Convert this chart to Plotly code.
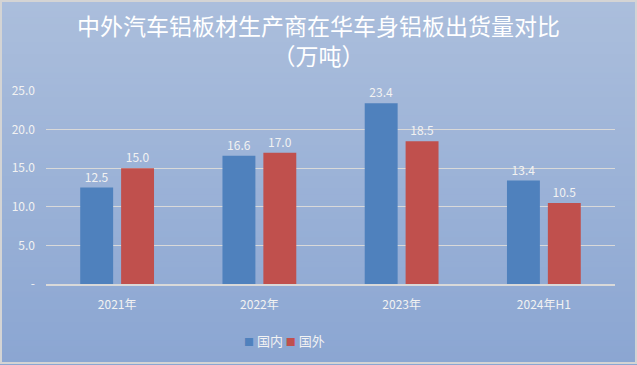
import plotly.graph_objects as go

categories = ["2021年", "2022年", "2023年", "2024年H1"]
domestic = [12.5, 16.6, 23.4, 13.4]
foreign = [15.0, 17.0, 18.5, 10.5]
series_names = ["国内", "国外"]
series_colors = ["#4f81bd", "#c0504d"]
y_tickvals = [0, 5, 10, 15, 20, 25]
y_ticktext = ["-", "5.0", "10.0", "15.0", "20.0", "25.0"]
title_lines = ["中外汽车铝板材生产商在华车身铝板出货量对比", "（万吨）"]

font_family = "Noto Sans CJK SC, Noto Sans, sans-serif"
label_color = "#f2f2f2"

W, H = 637, 365
ML, MR, MT, MB = 46, 22, 91, 81
PW, PH = W - ML - MR, H - MT - MB


def px_x(x):
    return (x - ML) / PW


def px_y(y):
    return (H - MB - y) / PH


fig = go.Figure()
for name, vals, col in zip(series_names, [domestic, foreign], series_colors):
    fig.add_trace(go.Bar(
        x=categories, y=vals, name=name,
        marker=dict(color=col, line=dict(width=0)),
        text=[f"{v:.1f}" for v in vals], textposition="outside",
        textfont=dict(color=label_color, size=12), cliponaxis=False,
    ))

# gradient background bands
shapes = []
n = 60
top = (171, 190, 220)
bot = (139, 166, 210)
y_top, y_bot = px_y(0), px_y(H)
for i in range(n):
    t = i / (n - 1)
    c = tuple(round(top[k] + (bot[k] - top[k]) * t) for k in range(3))
    y1 = y_top - i * (y_top - y_bot) / n + 0.002
    y0 = y_top - (i + 1) * (y_top - y_bot) / n - 0.002
    shapes.append(dict(type="rect", xref="paper", yref="paper",
                       x0=px_x(0), x1=px_x(W), y0=y0, y1=y1,
                       fillcolor="rgb(%d,%d,%d)" % c, line=dict(width=0),
                       layer="below"))
# outer frame
shapes.append(dict(type="rect", xref="paper", yref="paper",
                   x0=px_x(1), x1=px_x(W - 1), y0=px_y(H - 2), y1=px_y(1),
                   line=dict(color="#d4d4d4", width=2), fillcolor="rgba(0,0,0,0)",
                   layer="above"))

legend_text = ("<span style='color:%s;font-size:10px'>■</span> %s "
               "<span style='color:%s;font-size:10px'>■</span> %s"
               % (series_colors[0], series_names[0], series_colors[1], series_names[1]))

annotations = [
    dict(text="<br>".join(title_lines), xref="paper", yref="paper",
         x=px_x(318), y=px_y(40),
         xanchor="center", yanchor="middle", showarrow=False,
         font=dict(size=23, color="white", family=font_family)),
    dict(text=legend_text, xref="paper", yref="paper", x=px_x(284), y=px_y(340),
         xanchor="center", yanchor="middle", showarrow=False,
         font=dict(size=13, color=label_color, family=font_family)),
]

fig.update_layout(
    width=W, height=H,
    margin=dict(l=ML, r=MR, t=MT, b=MB),
    paper_bgcolor="#a0b6d8", plot_bgcolor="rgba(0,0,0,0)",
    font=dict(family=font_family, color=label_color, size=12),
    barmode="group", bargap=0.425, bargroupgap=0.195,
    xaxis=dict(showgrid=False, showline=True, linecolor="#d9d9d9", linewidth=2,
               ticks="", ticklabelstandoff=9,
               tickfont=dict(size=12, color=label_color)),
    yaxis=dict(range=[0, 25], tickvals=y_tickvals, ticktext=y_ticktext,
               showgrid=True, gridcolor="#d9d9d9", gridwidth=1,
               zeroline=False, showline=False, ticks="", ticklabelstandoff=10,
               tickfont=dict(size=12, color=label_color)),
    showlegend=False,
    shapes=shapes,
    annotations=annotations,
)
fig.write_html("out.html", config={"displayModeBar": False},
               post_script="document.body.style.margin='0';")
